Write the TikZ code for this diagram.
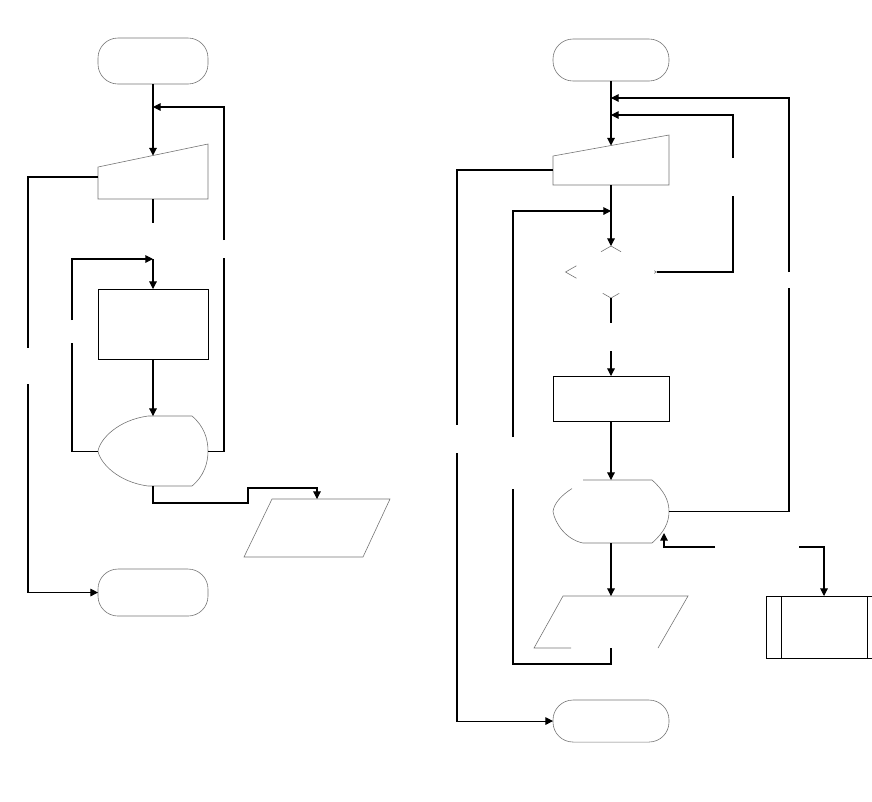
\documentclass[tikz,border=0pt]{standalone}
\usepackage{tikz}
\usetikzlibrary{arrows.meta,positioning,calc,shapes.geometric}

\begin{document}
\begin{tikzpicture}[
    x=0.03cm, y=-0.03cm,
    term/.style={
        draw=black!55,
        line width=0.5pt,
        rounded corners=0.6cm,
        inner sep=0pt, outer sep=0pt
    },
    holder/.style={inner sep=0pt, outer sep=0pt},
    proc/.style={draw, line width=0.8pt, inner sep=0pt, outer sep=0pt},
    decide/.style={diamond, inner sep=0pt, outer sep=0pt},
    outline/.style={draw=black!55, line width=0.5pt},
    link/.style={line width=0.9pt},
    arrow/.style={link, -{Triangle[length=6.5pt,width=6.5pt]}}
]
\useasboundingbox (0,0) rectangle (872,801);

% left chart
\node[term, minimum width=3.3cm, minimum height=1.38cm] (startL) at (153,61) {};
\node[holder, minimum width=3.3cm, minimum height=1.65cm, below=1.8cm of startL] (inL) {};
\node[proc, minimum width=3.3cm, minimum height=2.1cm, below=2.7cm of inL] (procL) {};
\node[holder, minimum width=3.3cm, minimum height=2.1cm, below=1.71cm of procL] (dispL) {};
\node[term, minimum width=3.3cm, minimum height=1.41cm, below=2.49cm of dispL] (endL) {};
\node[holder, minimum width=4.38cm, minimum height=1.74cm] (outL) at (317,528) {};

\draw[outline, shift={(inL.center)}] (-55,-4.5) -- (-55,27.5) -- (55,27.5) -- (55,-27.5) -- cycle;
\draw[outline, shift={(dispL.center)}] (-5,-35) -- (39,-35)
    .. controls (51,-25) and (55,-12) .. (55,0)
    .. controls (55,12) and (51,25) .. (39,35) -- (-5,35)
    .. controls (-35,31) and (-53,12) .. (-55,0)
    .. controls (-53,-12) and (-35,-31) .. (-5,-35);
\draw[outline, shift={(outL.center)}] (-45,-29) -- (73,-29) -- (46,29) -- (-73,29) -- cycle;

\coordinate (inLtop) at ($(inL.center)+(0,-16)$);
\coordinate (inLleft) at ($(inL.center)+(-55,5.5)$);
\coordinate (jL1) at (153,107);
\coordinate (jL2) at (153,259);

\draw[arrow] (startL.south) -- (inLtop);
\draw[link] (dispL.east) -| (224,258);
\draw[arrow] (224,240) |- (jL1);
\draw[link] (inLleft) -| (28,348);
\draw[arrow] (28,384) |- (endL.west);
\draw[link] (inL.south) -- (153,223);
\draw[arrow] (jL2) -- (procL.north);
\draw[link] (dispL.west) -| (72,343);
\draw[arrow] (72,320) |- (jL2);
\draw[arrow] (procL) -- (dispL);
\draw[arrow] (dispL.south) |- (248,503) -- (248,488) -| (outL.north);

% right chart
\node[term, minimum width=3.48cm, minimum height=1.26cm] (startR) at (611,60) {};
\node[holder, minimum width=3.48cm, minimum height=1.5cm, below=1.62cm of startR] (inR) {};
\node[decide, minimum width=2.73cm, minimum height=1.56cm, below=1.83cm of inR] (decR) {};
\node[proc, minimum width=3.48cm, minimum height=1.35cm, below=2.34cm of decR] (procR) {};
\node[holder, minimum width=3.48cm, minimum height=1.89cm, below=1.77cm of procR] (dispR) {};
\node[holder, minimum width=4.62cm, minimum height=1.56cm, below=1.59cm of dispR] (outR) {};
\node[term, minimum width=3.48cm, minimum height=1.26cm, below=1.56cm of outR] (endR) {};
\node[proc, minimum width=3.48cm, minimum height=1.86cm] (subR) at (824,627) {};

\draw[outline, shift={(inR.center)}] (-58,-4) -- (-58,25) -- (58,25) -- (58,-25) -- cycle;
\draw[outline] ($(decR.north)!0.22!(decR.west)$) -- (decR.north) -- ($(decR.north)!0.22!(decR.east)$);
\draw[outline] ($(decR.west)!0.24!(decR.north)$) -- (decR.west) -- ($(decR.west)!0.24!(decR.south)$);
\draw[outline] ($(decR.east)!0.05!(decR.north)$) -- (decR.east) -- ($(decR.east)!0.05!(decR.south)$);
\draw[outline] ($(decR.south)!0.18!(decR.west)$) -- (decR.south) -- ($(decR.south)!0.18!(decR.east)$);
\draw[outline, shift={(dispR.center)}] (-28,-31.5) -- (41,-31.5)
    .. controls (53,-21) and (58,-11) .. (58,0)
    .. controls (58,11) and (53,21) .. (41,31.5) -- (-28,31.5)
    .. controls (-45,28) and (-56,12) .. (-58,0)
    .. controls (-57,-8) and (-50,-16) .. (-39,-23);
\draw[outline, shift={(outR.center)}] (-40,26) -- (-77,26) -- (-48,-26) -- (77,-26) -- (47,26);
\draw[proc] ($(subR.north west)+(15,0)$) -- ($(subR.south west)+(15,0)$);
\draw[proc] ($(subR.north east)+(-15,0)$) -- ($(subR.south east)+(-15,0)$);

\coordinate (inRtop) at ($(inR.center)+(0,-14.5)$);
\coordinate (inRleft) at ($(inR.center)+(-58,10)$);
\coordinate (jR1) at (611,98);
\coordinate (jR2) at (611,115);
\coordinate (jR3) at (611,211);
\coordinate (jR4) at (664,533);

\draw[arrow] (startR.south) -- (inRtop);
\draw[link] (dispR.east) -| (789,288);
\draw[arrow] (789,272) |- (jR1);
\draw[link] (decR.east) -| (733,196);
\draw[arrow] (733,158) |- (jR2);
\draw[link] (inRleft) -| (457,425);
\draw[arrow] (457,453) |- (endR.west);
\draw[arrow] (inR.south) -- (decR.north);
\draw[link] (outR.south) |- (513,664) -- (513,489);
\draw[arrow] (513,437) |- (jR3);
\draw[link] (decR.south) -- (611,323);
\draw[arrow] (611,351) -- (procR.north);
\draw[arrow] (procR) -- (dispR);
\draw[arrow] (dispR.south) -- (outR.north);
\draw[arrow] (715,547) -| (jR4);
\draw[arrow] (799,547) -| (subR.north);
\end{tikzpicture}
\end{document}
